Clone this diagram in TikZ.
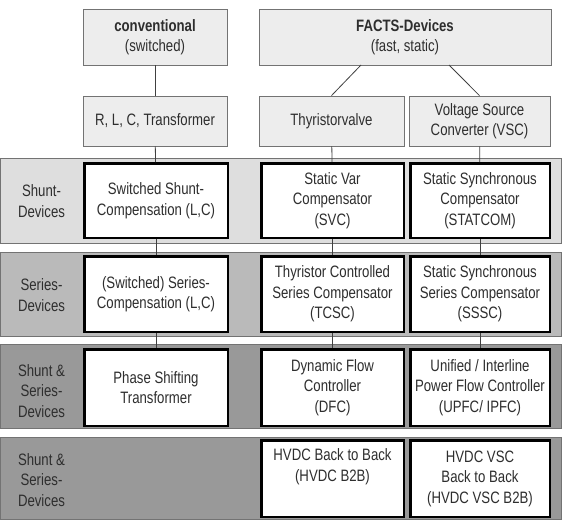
\documentclass[tikz,border=0pt]{standalone}
\usepackage{fontspec}
\setmainfont[FakeStretch=0.8]{Liberation Sans}
\begin{document}
\begin{tikzpicture}[x=1pt,y=-1pt,
  txt/.style={font=\fontsize{16.5}{20.5}\selectfont, text=black!82, align=center, inner sep=0pt},
  topbox/.style={txt, draw=black!55, fill=black!7, line width=0.8pt},
  devbox/.style={txt, draw=black, fill=white, line width=2.5pt},
  band/.style={draw=black!55, line width=0.6pt},
  conn/.style={draw=black!75, line width=0.8pt},
  lbl/.style={txt}
]
\useasboundingbox (0,0) rectangle (562,520);
% bands
\path[band, fill=black!13] (0.5,158) rectangle (561.5,243);
\path[band, fill=black!27] (0.5,252) rectangle (561.5,336);
\path[band, fill=black!40] (0.5,344) rectangle (561.5,428);
\path[band, fill=black!40] (0.5,437) rectangle (561.5,519);
% top boxes
\node[topbox, minimum width=144, minimum height=56] (conv) at (155,37) {\textbf{conventional}\\(switched)};
\node[topbox, minimum width=292, minimum height=56] (facts) at (405,37) {\textbf{FACTS-Devices}\\(fast, static)};
\node[topbox, minimum width=144, minimum height=50] (rlc) at (155,121) {R, L, C, Transformer};
\node[topbox, minimum width=145, minimum height=50] (thy) at (331.5,121) {Thyristorvalve};
\node[topbox, minimum width=141, minimum height=50] (vsc) at (479.5,121) {Voltage Source\\Converter (VSC)};
% row labels
\node[lbl] (l1) at (41.5,201) {Shunt-\\Devices};
\node[lbl] (l2) at (41.5,295) {Series-\\Devices};
\node[lbl] (l3) at (41.5,391) {Shunt \&\\Series-\\Devices};
\node[lbl] (l4) at (41.5,480) {Shunt \&\\Series-\\Devices};
% device boxes
\node[devbox, minimum width=143.5, minimum height=74.5] (ssc) at (156,200.5) {Switched Shunt-\\Compensation (L,C)};
\node[devbox, minimum width=142.5, minimum height=74.5] (svc) at (332.5,200.5) {Static Var\\Compensator\\(SVC)};
\node[devbox, minimum width=139.5, minimum height=74.5] (statcom) at (480,200.5) {Static Synchronous\\Compensator\\(STATCOM)};
\node[devbox, minimum width=143.5, minimum height=75.5] (sersc) at (156,294) {(Switched) Series-\\Compensation (L,C)};
\node[devbox, minimum width=142.5, minimum height=75.5] (tcsc) at (332.5,294) {Thyristor Controlled\\Series Compensator\\(TCSC)};
\node[devbox, minimum width=139.5, minimum height=75.5] (sssc) at (480,294) {Static Synchronous\\Series Compensator\\(SSSC)};
\node[devbox, minimum width=143.5, minimum height=76.5] (pst) at (156,387.5) {Phase Shifting\\Transformer};
\node[devbox, minimum width=142.5, minimum height=76.5] (dfc) at (332.5,387.5) {Dynamic Flow\\Controller\\(DFC)};
\node[devbox, minimum width=139.5, minimum height=76.5] (upfc) at (480,387.5) {Unified / Interline\\Power Flow Controller\\(UPFC/ IPFC)};
\node[devbox, minimum width=142.5, minimum height=76.5] (b2b) at (332.5,478.5) {HVDC Back to Back\\(HVDC B2B)\\\strut};
\node[devbox, minimum width=139.5, minimum height=76.5] (vscb2b) at (480,478.5) {HVDC VSC\\Back to Back\\(HVDC VSC B2B)};
% connectors
\coordinate (f1) at (361,65);
\coordinate (f2) at (449,65);
\draw[conn] (conv) -- (rlc);
\draw[conn] (rlc) -- (ssc);
\draw[conn] (ssc) -- (sersc);
\draw[conn] (sersc) -- (pst);
\draw[conn] (f1) -- (thy.north);
\draw[conn] (f2) -- (vsc.north);
\draw[conn] (thy) -- (svc);
\draw[conn] (svc) -- (tcsc);
\draw[conn] (tcsc) -- (dfc);
\draw[conn] (vsc) -- (statcom);
\draw[conn] (statcom) -- (sssc);
\draw[conn] (sssc) -- (upfc);
\end{tikzpicture}
\end{document}
